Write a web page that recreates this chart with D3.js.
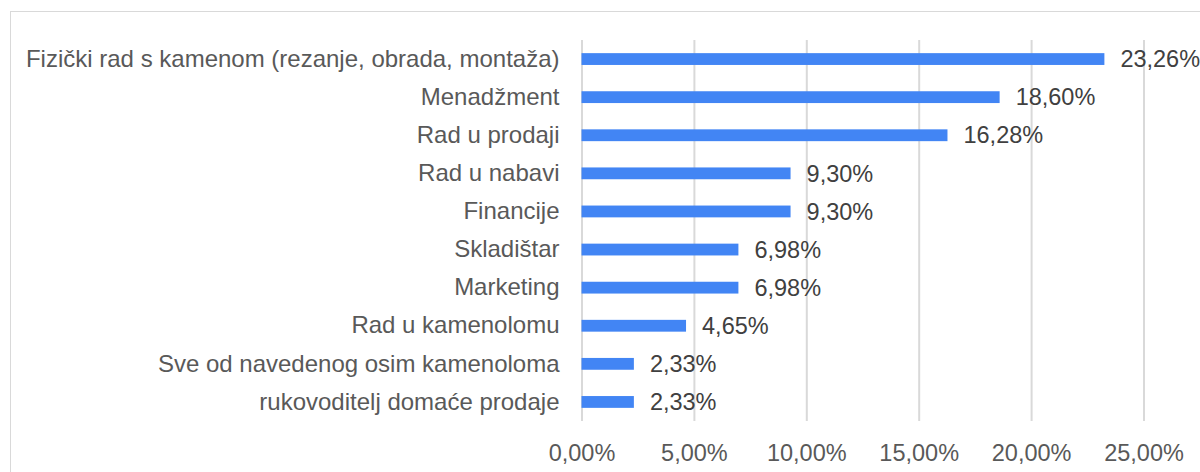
<!DOCTYPE html>
<html lang="hr">
<head>
<meta charset="UTF-8">
<title>Bar chart</title>
<style>
  html, body { margin: 0; padding: 0; background: #fff; }
  text { font-family: "Liberation Sans", Arial, sans-serif; }
</style>
</head>
<body>
<div id="wrapper"></div>
<script src="https://d3js.org/d3.v7.min.js"></script>
<script>
// podaci
const categories = [
  "Fizički rad s kamenom (rezanje, obrada, montaža)",
  "Menadžment",
  "Rad u prodaji",
  "Rad u nabavi",
  "Financije",
  "Skladištar",
  "Marketing",
  "Rad u kamenolomu",
  "Sve od navedenog osim kamenoloma",
  "rukovoditelj domaće prodaje"
];
const values = [23.26, 18.60, 16.28, 9.30, 9.30, 6.98, 6.98, 4.65, 2.33, 2.33];
const xTicks = [0, 5, 10, 15, 20, 25];

const width = 1200, height = 472;
const margin = { top: 40, left: 581.5, bottom: 51, right: 0 };

const svg = d3.select('#wrapper').append('svg')
  .attr('width', width)
  .attr('height', height);

// okvir
svg.append('rect')
  .attr('x', 10.5).attr('y', 11.5)
  .attr('width', 1300).attr('height', 600)
  .attr('fill', 'none')
  .attr('stroke', '#d9d9d9')
  .attr('stroke-width', 1);

const fmt = v => v.toFixed(2).replace('.', ',') + '%';

const xScale = d3.scaleLinear()
  .domain([0, 25])
  .range([margin.left, margin.left + 562]);

const yScale = d3.scaleBand()
  .domain(categories)
  .range([margin.top, height - margin.bottom])
  .paddingInner(0.69)
  .paddingOuter(0.345);

// mreža
const xAxis = d3.axisBottom(xScale)
  .tickValues(xTicks)
  .tickSizeInner(-(height - margin.bottom - margin.top))
  .tickSizeOuter(0)
  .tickPadding(23)
  .tickFormat(fmt);

const gx = svg.append('g')
  .attr('transform', `translate(0,${height - margin.bottom})`)
  .call(xAxis);
gx.select('.domain').remove();
gx.selectAll('.tick line').attr('stroke', '#d9d9d9').attr('stroke-width', 2);
gx.selectAll('.tick text')
  .attr('fill', '#595959')
  .style('font-size', '23.5px');

// kategorije
const yAxis = d3.axisLeft(yScale)
  .tickSize(0)
  .tickPadding(22);
const gy = svg.append('g')
  .attr('transform', `translate(${margin.left},0)`)
  .call(yAxis);
gy.select('.domain').remove();
gy.selectAll('.tick text')
  .attr('fill', '#595959')
  .style('font-size', '24px');

// stupci
svg.append('g')
  .selectAll('rect')
  .data(values)
  .join('rect')
  .attr('x', xScale(0))
  .attr('y', (d, i) => yScale(categories[i]))
  .attr('width', d => xScale(d) - xScale(0))
  .attr('height', yScale.bandwidth())
  .attr('fill', '#4285f4');

// vrijednosti
svg.append('g')
  .selectAll('text')
  .data(values)
  .join('text')
  .attr('x', d => xScale(d) + 16)
  .attr('y', (d, i) => yScale(categories[i]) + yScale.bandwidth() / 2)
  .attr('dy', '0.35em')
  .attr('fill', '#404040')
  .style('font-size', '23.5px')
  .text(fmt);
</script>
</body>
</html>
